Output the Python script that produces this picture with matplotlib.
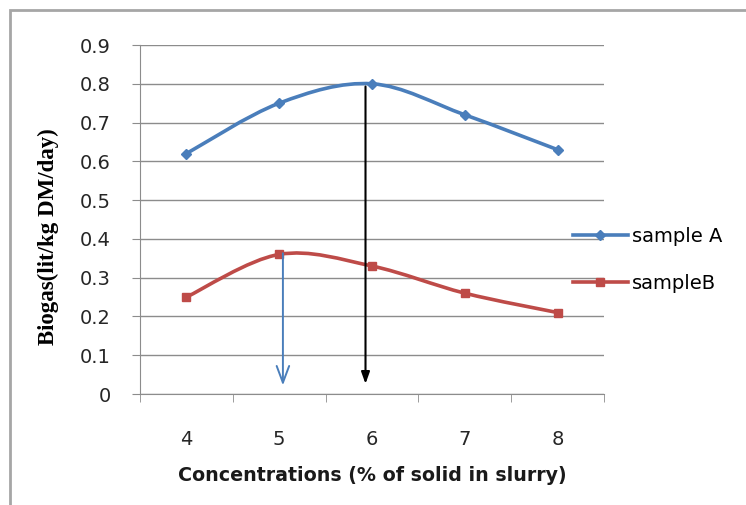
import numpy as np
import matplotlib
matplotlib.use("Agg")
import matplotlib.pyplot as plt
from matplotlib.path import Path
from matplotlib.patches import PathPatch, Rectangle
from matplotlib.lines import Line2D

conc = [4, 5, 6, 7, 8]
sample_a = [0.62, 0.75, 0.80, 0.72, 0.63]
sample_b = [0.25, 0.36, 0.33, 0.26, 0.21]
y_ticks = [0, 0.1, 0.2, 0.3, 0.4, 0.5, 0.6, 0.7, 0.8, 0.9]
y_labels = ["0", "0.1", "0.2", "0.3", "0.4", "0.5", "0.6", "0.7", "0.8", "0.9"]

blue = "#4A7EBB"
red = "#BE4B48"
grid_col = "#8C8C8C"
txt_font = "DejaVu Sans"


def smooth_path(xs, ys):
    # excel style smoothed line: bezier segments (catmull-rom)
    p = np.column_stack([xs, ys]).astype(float)
    pp = np.vstack([p[0], p, p[-1]])
    verts = [p[0]]
    codes = [Path.MOVETO]
    for i in range(len(p) - 1):
        p0, p1, p2, p3 = pp[i], pp[i + 1], pp[i + 2], pp[i + 3]
        verts += [p1 + (p2 - p0) / 6, p2 - (p3 - p1) / 6, p2]
        codes += [Path.CURVE4] * 3
    return Path(verts, codes)


fig = plt.figure(figsize=(7.46, 5.05), dpi=100)
ax = fig.add_axes([140 / 746, 1 - 394 / 505, 464 / 746, 349 / 505])

# outer chart border (cropped)
fig.patches.append(Rectangle((10 / 746, -0.1), 1.2, 1 - 10 / 505 + 0.1,
                             transform=fig.transFigure, fill=False,
                             edgecolor="#A6A6A6", linewidth=2))

ax.set_xlim(3.5, 8.5)
ax.set_ylim(0, 0.9)

for v in y_ticks:
    ax.axhline(v, color=grid_col, linewidth=1, zorder=1)

for xs, ys, c, m, ms in [(conc, sample_a, blue, "D", 5.5), (conc, sample_b, red, "s", 6)]:
    ax.add_patch(PathPatch(smooth_path(xs, ys), facecolor="none", edgecolor=c,
                           linewidth=2.6, zorder=3, capstyle="round"))
    ax.plot(xs, ys, linestyle="none", marker=m, markersize=ms, color=c, zorder=4)

# arrows marking the optimum
ax.annotate("", xy=(5.04, 0.015), xytext=(5.04, 0.37),
            arrowprops=dict(arrowstyle="->,head_length=1.2,head_width=0.45",
                            color=blue, linewidth=1.4), zorder=5)
ax.annotate("", xy=(5.93, 0.019), xytext=(5.93, 0.80),
            arrowprops=dict(arrowstyle="-|>,head_length=0.7,head_width=0.25",
                            color="black", linewidth=1.5), zorder=5)

ax.set_yticks(y_ticks)
ax.set_yticklabels(y_labels, fontsize=14, family=txt_font, color="#262626")
ax.set_xticks(conc)
ax.set_xticklabels([str(c) for c in conc], fontsize=14, family=txt_font, color="#262626")
ax.set_xticks(np.arange(3.5, 8.6, 1), minor=True)
ax.tick_params(axis="x", which="major", length=0, pad=26)
ax.tick_params(axis="x", which="minor", length=6, color=grid_col, direction="out")
ax.tick_params(axis="y", length=6, color=grid_col, direction="out", pad=15)

for s in ["top", "right"]:
    ax.spines[s].set_visible(False)
ax.spines["left"].set_color(grid_col)
ax.spines["bottom"].set_color(grid_col)

ax.set_xlabel("Concentrations (% of solid in slurry)", fontsize=13.7, family=txt_font,
              fontweight="bold", labelpad=12, color="#1a1a1a")
ax.set_ylabel("Biogas(lit/kg DM/day)", fontsize=16.5, family="Liberation Serif",
              fontweight="bold")
ax.yaxis.set_label_coords(-81 / 464, (394 - 237) / 349)

handles = [Line2D([], [], color=blue, marker="D", markersize=5.5, linewidth=2.6),
           Line2D([], [], color=red, marker="s", markersize=6, linewidth=2.6)]
fig.legend(handles, ["sample A", "sampleB"], loc="center left",
           bbox_to_anchor=(555 / 746, 1 - 260 / 505), frameon=False,
           handlelength=2.85, handletextpad=0.2, labelspacing=1.45,
           prop={"family": txt_font, "size": 14})

fig.savefig("out.png", dpi=100)
